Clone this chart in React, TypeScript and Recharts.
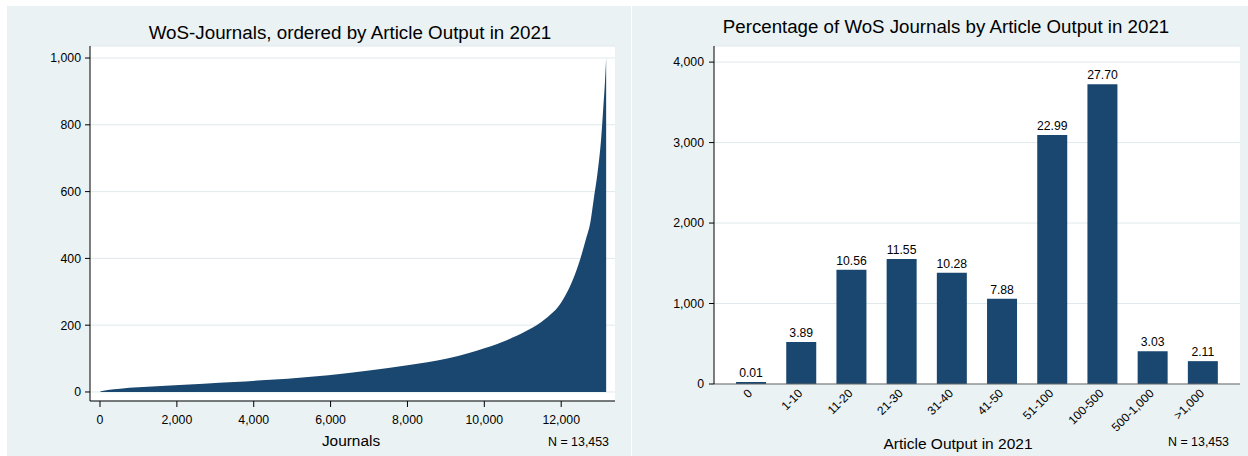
import React from 'react';
import { AreaChart, Area, BarChart, Bar, XAxis, YAxis, CartesianGrid, LabelList } from 'recharts';

const FONT = '"Liberation Sans", Arial, Helvetica, sans-serif';
const NAVY = '#1a476f';
const BG = '#eaf2f3';
const GRID = '#e0e9ec';

// Left chart: journals ranked by article output (capped at 1,000)
const journalRank = [0, 1, 60, 200, 525, 1000, 1946, 2700, 3500, 4200, 4883, 5943, 7000, 8000, 9036, 9600, 10000, 10600, 11100, 11600, 12000, 12300, 12500, 12650, 12762, 12850, 12950, 13040, 13100, 13140, 13170];
const articleOutput = [0, 1, 3, 6, 10, 14, 20, 25, 30, 35, 40, 50, 64, 80, 100, 117, 131, 156, 183, 220, 268, 335, 400, 460, 510, 580, 660, 760, 860, 930, 1000];
const rankTicks = [0, 2000, 4000, 6000, 8000, 10000, 12000];
const outputTicks = [0, 200, 400, 600, 800, 1000];

// Right chart: journals per output class
const outputClasses = ['0', '1-10', '11-20', '21-30', '31-40', '41-50', '51-100', '100-500', '500-1,000', '>1,000'];
const journalCounts = [1, 523, 1421, 1554, 1383, 1060, 3093, 3726, 408, 284];
const journalShares = [0.01, 3.89, 10.56, 11.55, 10.28, 7.88, 22.99, 27.7, 3.03, 2.11];
const countTicks = [0, 1000, 2000, 3000, 4000];

const curveData = journalRank.map((r, i) => ({ rank: r, output: articleOutput[i] }));
const barData = outputClasses.map((c, i) => ({ cls: c, count: journalCounts[i], share: journalShares[i] }));

const fmt = (v: number) => v.toLocaleString('en-US');

const RotTick = (props: any) => {
  const { x, y, payload } = props;
  const px = x + 2;
  const py = y + 10;
  return (
    <text x={px} y={py} transform={`rotate(-45 ${px} ${py})`} textAnchor="end" fontSize={12} fill="#000" fontFamily={FONT}>
      {payload.value}
    </text>
  );
};

export default function App() {
  const tickStyle = { fill: '#000', fontSize: 12.3, fontFamily: FONT };
  return (
    <div style={{ position: 'absolute', left: 0, top: 0, width: 1248, height: 456, background: '#fff', fontFamily: FONT, overflow: 'hidden' }}>
      <div style={{ position: 'absolute', left: 7, top: 6, width: 624, height: 450, background: BG }}>
        <AreaChart width={624} height={450} data={curveData} margin={{ top: 40, right: 16, bottom: 25, left: 0 }}>
          <CartesianGrid vertical={false} fill="#fff" stroke={GRID} strokeWidth={1} />
          <XAxis
            dataKey="rank"
            type="number"
            domain={[-260, 13400]}
            ticks={rankTicks}
            allowDataOverflow
            interval={0}
            tickFormatter={fmt}
            height={30}
            tickSize={6}
            tickMargin={8}
            stroke="#000"
            tick={tickStyle}
          />
          <YAxis
            type="number"
            domain={[-27, 1036]}
            ticks={outputTicks}
            allowDataOverflow
            interval={0}
            tickFormatter={fmt}
            width={83}
            tickSize={5}
            tickMargin={4}
            stroke="#000"
            tick={tickStyle}
          />
          <Area dataKey="output" type="monotone" stroke="none" fill={NAVY} fillOpacity={1} isAnimationActive={false} dot={false} activeDot={false} />
        </AreaChart>
      </div>
      <div style={{ position: 'absolute', left: 632, top: 6, width: 616, height: 450, background: BG }}>
        <BarChart width={616} height={450} data={barData} margin={{ top: 40, right: 8, bottom: 12, left: 0 }} barCategoryGap="20%">
          <CartesianGrid vertical={false} fill="#fff" stroke={GRID} strokeWidth={1} />
          <XAxis
            dataKey="cls"
            type="category"
            interval={0}
            tickLine={false}
            tickSize={0}
            tickMargin={0}
            height={60}
            padding={{ left: 12, right: 12 }}
            stroke="#666"
            tick={<RotTick />}
          />
          <YAxis
            type="number"
            domain={[0, 4200]}
            ticks={countTicks}
            allowDataOverflow
            interval={0}
            tickFormatter={fmt}
            width={82}
            tickSize={5}
            tickMargin={5}
            stroke="#000"
            tick={tickStyle}
          />
          <Bar dataKey="count" fill={NAVY} minPointSize={2} isAnimationActive={false}>
            <LabelList
              dataKey="share"
              position="top"
              offset={5}
              formatter={(v: any) => Number(v).toFixed(2)}
              style={{ fill: '#000', fontSize: 12.2, fontFamily: FONT }}
            />
          </Bar>
        </BarChart>
      </div>
      <svg width={1248} height={456} style={{ position: 'absolute', left: 0, top: 0, pointerEvents: 'none' }} fontFamily={FONT}>
        <text x={350} y={39.3} textAnchor="middle" fontSize={18.8} fill="#000">WoS-Journals, ordered by Article Output in 2021</text>
        <text x={946} y={33.3} textAnchor="middle" fontSize={18.7} fill="#000">Percentage of WoS Journals by Article Output in 2021</text>
        <text x={351} y={445.5} textAnchor="middle" fontSize={15.4} fill="#000">Journals</text>
        <text x={958} y={448.5} textAnchor="middle" fontSize={15.5} fill="#000">Article Output in 2021</text>
        <text x={609} y={446.3} textAnchor="end" fontSize={12.4} fill="#000">N = 13,453</text>
        <text x={1229} y={446.3} textAnchor="end" fontSize={12.4} fill="#000">N = 13,453</text>
      </svg>
    </div>
  );
}
